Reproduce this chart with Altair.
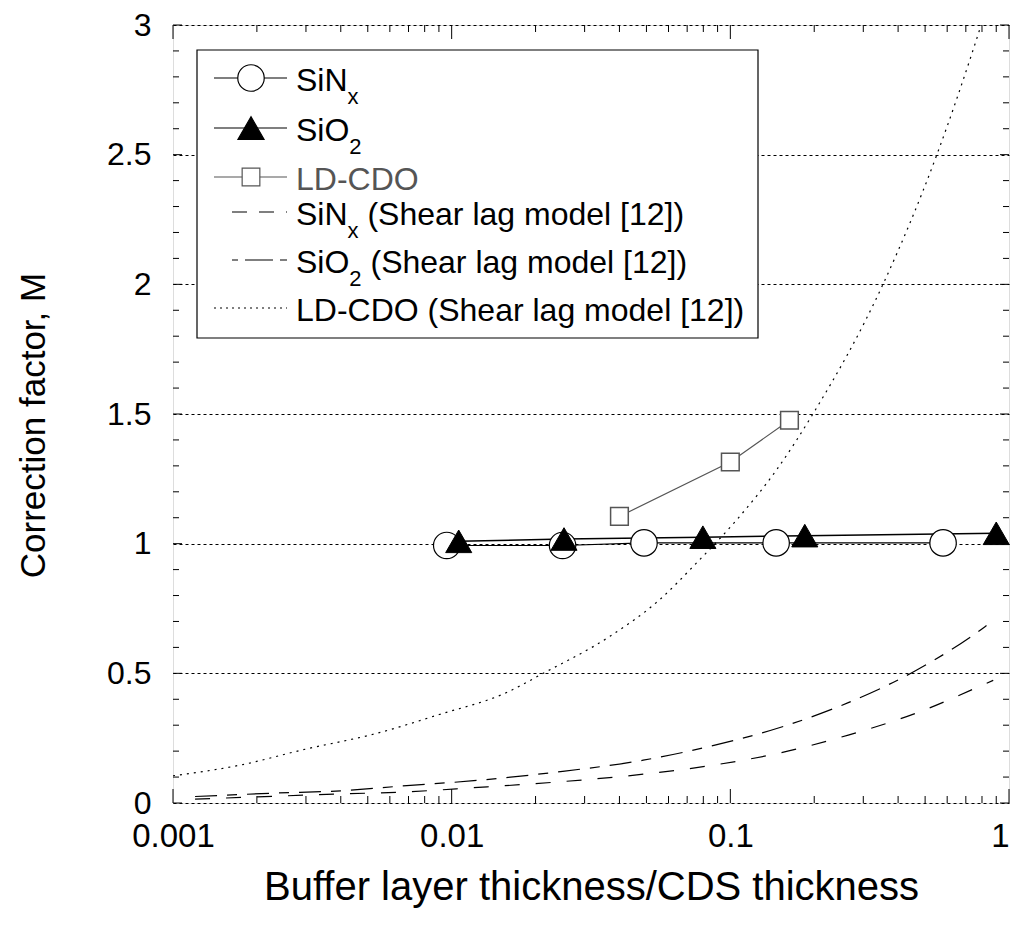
import altair as alt
import pandas as pd

# ---------------- data ----------------
sinx_x = [0.0096, 0.025, 0.049, 0.146, 0.58]
sinx_y = [0.993, 0.993, 1.003, 1.003, 1.003]

sio2_x = [0.0106, 0.0253, 0.0797, 0.185, 0.90]
sio2_y = [1.009, 1.018, 1.025, 1.031, 1.040]

ldcdo_x = [0.04, 0.10, 0.163]
ldcdo_y = [1.105, 1.315, 1.476]

sinx_sl_x = [0.0012, 0.0023, 0.004, 0.0069, 0.012, 0.0232, 0.0487, 0.0857, 0.1507, 0.265, 0.46, 0.82, 0.878]
sinx_sl_y = [0.015, 0.026, 0.035, 0.043, 0.059, 0.080, 0.111, 0.145, 0.193, 0.262, 0.345, 0.459, 0.473]

sio2_sl_x = [0.0012, 0.0023, 0.004, 0.0069, 0.012, 0.0232, 0.0487, 0.0857, 0.1507, 0.265, 0.46, 0.82, 0.878]
sio2_sl_y = [0.025, 0.038, 0.047, 0.067, 0.086, 0.118, 0.165, 0.220, 0.291, 0.387, 0.509, 0.680, 0.704]

ld_sl_x = [0.001, 0.00174, 0.003, 0.00523, 0.00908, 0.01575, 0.0213, 0.037, 0.0559, 0.0746,
           0.1054, 0.1466, 0.1986, 0.353, 0.551, 0.789, 1.0]
ld_sl_y = [0.105, 0.146, 0.208, 0.265, 0.342, 0.426, 0.50, 0.643, 0.785, 0.919,
           1.092, 1.285, 1.503, 2.0, 2.5, 2.99, 3.35]

x_tick_labels = [0.001, 0.01, 0.1, 1]
y_tick_labels = [0, 0.5, 1, 1.5, 2, 2.5, 3]

legend_main = ["SiN", "SiO", "LD-CDO", "SiN", "SiO", "LD-CDO (Shear lag model [12])"]
legend_sub = ["x", "2", "", "x", "2", ""]
legend_tail = ["", "", "", "(Shear lag model [12])", "(Shear lag model [12])", ""]

x_title = "Buffer layer thickness/CDS thickness"
y_title = "Correction factor, M"

# ---------------- layout / style ----------------
W, H = 836, 778
FONT = "Liberation Sans"
GRAY = "#555555"

def df(x, y):
    return pd.DataFrame({"x": x, "y": y})

xscale = alt.Scale(type="log", domain=[0.001, 1], nice=False)
yscale = alt.Scale(domain=[0, 3], nice=False)

X = alt.X("x:Q", scale=xscale,
          axis=alt.Axis(values=x_tick_labels, format="~g", ticks=False, tickSize=0, domain=False,
                        grid=False, labelFontSize=33, labelPadding=17, labelFlush=False,
                        labelOverlap=False, labelColor="black", labelFont=FONT,
                        labelAlign={"expr": "datum.value >= 1 ? 'right' : 'center'"},
                        title=x_title, titleFontSize=40, titleFontWeight="normal",
                        titleFont=FONT, titleColor="black", titleY=84, titleBaseline="middle"))
Y = alt.Y("y:Q", scale=yscale,
          axis=alt.Axis(values=y_tick_labels, format="~g", ticks=False, tickSize=0, domain=False,
                        grid=True, gridColor="black", gridDash=[3, 3], gridWidth=1, gridOpacity=1,
                        labelFontSize=32, labelPadding=22, labelOverlap=False, labelColor="black",
                        labelFont=FONT, labelFlush=False,
                        title=y_title, titleFontSize=35, titleFontWeight="normal", titleFont=FONT,
                        titleColor="black", titleX=-140, titleY=400, titleBaseline="middle",
                        titleAngle=-90, titleAlign="center"))

layers = []

# inward tick marks on all four sides
x_major = x_tick_labels
x_minor = [m * 10.0 ** k for k in (-3, -2, -1) for m in range(2, 10)]
y_major = y_tick_labels
y_minor = [round(i * 0.1, 1) for i in range(31) if i % 5 != 0]

def xticks(vals, length):
    d = pd.DataFrame({"x": vals})
    bot = alt.Chart(d).mark_rule(color="black", strokeWidth=1).encode(
        x=X, y=alt.value(H), y2=alt.value(H - length))
    top = alt.Chart(d).mark_rule(color="black", strokeWidth=1).encode(
        x=X, y=alt.value(0), y2=alt.value(length))
    return [bot, top]

def yticks(vals, length):
    d = pd.DataFrame({"y": vals})
    left = alt.Chart(d).mark_rule(color="black", strokeWidth=1).encode(
        y=Y, x=alt.value(0), x2=alt.value(length))
    right = alt.Chart(d).mark_rule(color="black", strokeWidth=1).encode(
        y=Y, x=alt.value(W), x2=alt.value(W - length))
    return [left, right]

layers += xticks(x_major, 14) + xticks(x_minor, 7)
layers += yticks(y_major, 9) + yticks(y_minor, 6)

# shear lag model curves
layers.append(alt.Chart(df(sinx_sl_x, sinx_sl_y)).mark_line(
    color="black", strokeWidth=1.2, strokeDash=[15, 16], interpolate="monotone").encode(x=X, y=Y))
layers.append(alt.Chart(df(sio2_sl_x, sio2_sl_y)).mark_line(
    color="black", strokeWidth=1.2, strokeDash=[22, 10, 10, 10], interpolate="monotone").encode(x=X, y=Y))
layers.append(alt.Chart(df(ld_sl_x, ld_sl_y)).mark_line(
    color="black", strokeWidth=1.2, strokeDash=[2, 5], interpolate="monotone", clip=True).encode(x=X, y=Y))

# measured series: lines
layers.append(alt.Chart(df(sinx_x, sinx_y)).mark_line(color="black", strokeWidth=1.2).encode(x=X, y=Y))
layers.append(alt.Chart(df(sio2_x, sio2_y)).mark_line(color="black", strokeWidth=1.5).encode(x=X, y=Y))
layers.append(alt.Chart(df(ldcdo_x, ldcdo_y)).mark_line(color=GRAY, strokeWidth=1.2).encode(x=X, y=Y))

# measured series: markers
layers.append(alt.Chart(df(sinx_x, sinx_y)).mark_point(
    shape="circle", size=700, filled=True, fill="white", stroke="black", strokeWidth=1.2,
    opacity=1).encode(x=X, y=Y))
layers.append(alt.Chart(df(sio2_x, sio2_y)).mark_point(
    shape="triangle-up", size=680, filled=True, fill="black", stroke="black", strokeWidth=1,
    opacity=1).encode(x=X, y=Y))
layers.append(alt.Chart(df(ldcdo_x, ldcdo_y)).mark_point(
    shape="square", size=313, filled=True, fill="white", stroke=GRAY, strokeWidth=1.5,
    opacity=1).encode(x=X, y=Y))

# ---------------- legend ----------------
box = pd.DataFrame({"k": [0]})
layers.append(alt.Chart(box).mark_rect(fill="white", stroke="black", strokeWidth=1.2).encode(
    x=alt.value(24), x2=alt.value(585), y=alt.value(25), y2=alt.value(313)))

rows = [53, 103, 152, 187, 235, 283]
stub_left, stub_right, marker_x, text_x = 41, 114, 78, 123
FS, SFS = 32, 22
arial = {"S": 0.667, "i": 0.222, "N": 0.722, "O": 0.778}

styles = [
    dict(kind="marker", shape="circle", size=700, fill="white", stroke="black", color="black", dash=None, left=stub_left),
    dict(kind="marker", shape="triangle-up", size=680, fill="black", stroke="black", color="black", dash=None, left=stub_left),
    dict(kind="marker", shape="square", size=313, fill="white", stroke=GRAY, color=GRAY, dash=None, left=stub_left),
    dict(kind="line", dash=[15, 12], color="black", left=59),
    dict(kind="line", dash=[6, 7, 22, 0], color="black", left=59),
    dict(kind="line", dash=[2, 4], color="black", left=stub_left),
]

text_rows = []
for i, (m, s, t) in enumerate(zip(legend_main, legend_sub, legend_tail)):
    st = styles[i]
    ry = rows[i]
    rule_kwargs = dict(color=st["color"], strokeWidth=1.2)
    if st["dash"]:
        rule_kwargs["strokeDash"] = st["dash"]
    layers.append(alt.Chart(box).mark_rule(**rule_kwargs).encode(
        x=alt.value(st["left"]), x2=alt.value(stub_right), y=alt.value(ry)))
    if st["kind"] == "marker":
        layers.append(alt.Chart(box).mark_point(
            shape=st["shape"], size=st["size"], filled=True, fill=st["fill"], stroke=st["stroke"],
            strokeWidth=1.2, opacity=1).encode(x=alt.value(marker_x), y=alt.value(ry)))
    col = GRAY if i == 2 else "black"
    text_rows.append(dict(px=text_x, py=ry + 13, txt=m, fs=FS, col=col))
    if s:
        w_main = sum(arial.get(c, 0.556) for c in m) * FS
        text_rows.append(dict(px=text_x + w_main, py=ry + 26, txt=s, fs=SFS, col=col))
        if t:
            w_sub = 0.556 * SFS if s == "2" else 0.5 * SFS
            space = 0.278 * FS
            text_rows.append(dict(px=text_x + w_main + w_sub + space, py=ry + 13, txt=t, fs=FS, col=col))

tdf = pd.DataFrame(text_rows)
layers.append(alt.Chart(tdf).mark_text(align="left", baseline="alphabetic", font=FONT).encode(
    x=alt.X("px:Q", scale=None), y=alt.Y("py:Q", scale=None), text="txt:N",
    size=alt.Size("fs:Q", scale=None), color=alt.Color("col:N", scale=None)))

chart = alt.layer(*layers).properties(
    width=W, height=H,
    autosize=alt.AutoSizeParams(type="none"),
    padding={"left": 165, "top": 17, "right": 1, "bottom": 110},
    background="white",
).configure_view(stroke="black", strokeWidth=1.5).configure(font=FONT)

chart.save("out.html", embed_options={"renderer": "svg", "actions": False})
